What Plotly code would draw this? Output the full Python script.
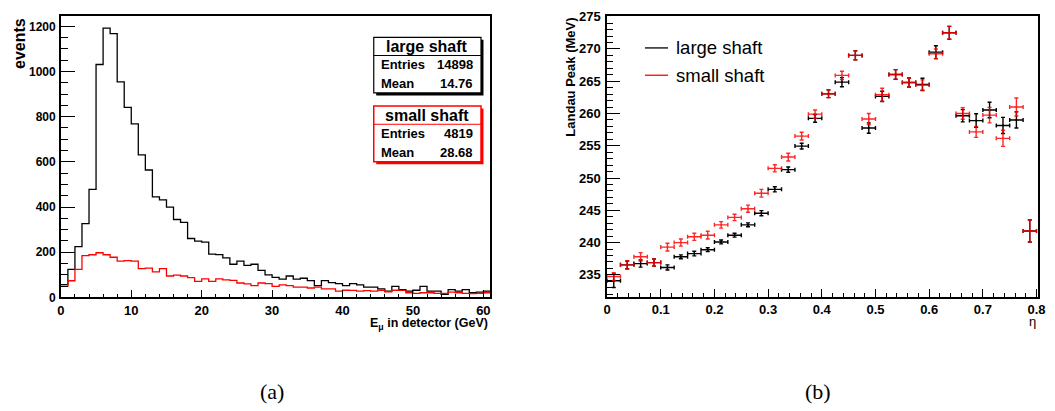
import numpy as np
import plotly.graph_objects as go

W, H = 1055, 411

# ---------------- (a) muon energy spectra, 1 GeV bins from 0 to 61 GeV ----------------
bin_edges = list(range(0, 62))
large_counts = [57, 124, 225, 327, 478, 1031, 1192, 1168, 954, 841,
                768, 631, 564, 445, 432, 400, 345, 332, 261, 249,
                245, 192, 190, 175, 147, 161, 142, 147, 120, 100,
                89, 81, 95, 81, 85, 75, 52, 75, 66, 61,
                52, 61, 56, 46, 46, 38, 28, 49, 35, 28,
                32, 49, 28, 28, 14, 35, 28, 35, 21, 24,
                28]
small_counts = [49, 74, 124, 185, 189, 198, 189, 178, 161, 163,
                161, 128, 130, 113, 128, 95, 99, 95, 88, 71,
                82, 71, 82, 78, 76, 64, 60, 52, 64, 61,
                49, 56, 52, 46, 46, 42, 46, 38, 38, 28,
                32, 31, 28, 30, 28, 32, 25, 32, 31, 21,
                18, 21, 21, 18, 18, 24, 21, 18, 17, 18,
                21]
stat_names = ["large shaft", "small shaft"]
stat_entries = ["14898", "4819"]
stat_means = ["14.76", "28.68"]

# ---------------- (b) Landau peak vs eta, bins of 0.025 ----------------
eta_centers = [0.0125, 0.0375, 0.0625, 0.0875, 0.1125, 0.1375, 0.1625, 0.1875,
               0.2125, 0.2375, 0.2625, 0.2875, 0.3125, 0.3375, 0.3625, 0.3875,
               0.4125, 0.4375, 0.4625, 0.4875, 0.5125, 0.5375, 0.5625, 0.5875,
               0.6125, 0.6375, 0.6625, 0.6875, 0.7125, 0.7375, 0.7625, 0.7875]
eta_halfwidth = 0.0125
large_peak = [234.1, 236.55, 236.75, 236.9, 236.15, 237.8, 238.3, 238.9,
              240.1, 241.15, 242.75, 244.55, 248.25, 251.3, 254.95, 259.25,
              263.05, 264.85, 269.0, 257.75, 262.65, 266.05, 264.8, 264.5,
              269.5, 272.5, 259.65, 258.9, 260.55, 258.15, 259.0, 241.8]
large_err = [1.05, 0.6, 0.55, 0.55, 0.4, 0.3, 0.35, 0.3,
             0.3, 0.3, 0.3, 0.4, 0.4, 0.4, 0.45, 0.6,
             0.6, 0.7, 0.7, 0.8, 0.8, 0.75, 0.7, 0.95,
             1.0, 1.0, 0.95, 1.05, 1.2, 1.25, 1.25, 1.7]
small_peak = [234.75, 236.55, 237.8, 236.9, 239.3, 240.0, 240.9, 241.15,
              242.75, 243.9, 245.25, 247.65, 251.5, 253.25, 256.5, 259.9,
              263.05, 265.9, 269.0, 259.15, 262.9, 266.05, 264.8, 264.4,
              269.25, 272.5, 260.0, 257.15, 259.75, 256.15, 261.0, 241.8]
small_err = [0.6, 0.65, 0.65, 0.55, 0.6, 0.55, 0.55, 0.6,
             0.5, 0.5, 0.55, 0.6, 0.55, 0.6, 0.6, 0.65,
             0.6, 0.65, 0.7, 0.85, 1.0, 0.75, 0.7, 0.8,
             0.75, 1.0, 0.9, 0.85, 1.2, 1.25, 1.4, 1.7]

RED = "#ff0000"
FONT = "Liberation Sans, Arial, Helvetica, sans-serif"
SERIF = "Liberation Serif, Times New Roman, serif"


def px(x):
    return x / W


def py(y):
    return 1 - y / H


fig = go.Figure()

# step histograms (last value repeated so the final bin is closed at 61)
fig.add_trace(go.Scatter(x=bin_edges, y=large_counts + [large_counts[-1]],
                         mode="lines", line=dict(shape="hv", color="black", width=1.3),
                         xaxis="x", yaxis="y", showlegend=False, hoverinfo="skip"))
fig.add_trace(go.Scatter(x=bin_edges, y=small_counts + [small_counts[-1]],
                         mode="lines", line=dict(shape="hv", color=RED, width=1.3),
                         xaxis="x", yaxis="y", showlegend=False, hoverinfo="skip"))

# Landau peak points with x/y error bars
for vals, errs, col, op in [(large_peak, large_err, "black", 1.0),
                            (small_peak, small_err, RED, 0.85)]:
    fig.add_trace(go.Scatter(
        x=eta_centers, y=vals, mode="markers",
        marker=dict(size=2, color=col),
        opacity=op,
        error_x=dict(type="constant", value=eta_halfwidth, color=col, thickness=1.4, width=2),
        error_y=dict(type="data", array=errs, color=col, thickness=1.4, width=2),
        xaxis="x2", yaxis="y2", showlegend=False, hoverinfo="skip"))

axis_common = dict(showline=True, mirror=True, linecolor="black", linewidth=1.5,
                   showgrid=False, zeroline=False, ticks="inside", tickcolor="black",
                   tickwidth=1, color="black")

fig.update_layout(
    width=W, height=H, margin=dict(l=0, r=0, t=0, b=0),
    paper_bgcolor="white", plot_bgcolor="white",
    xaxis=dict(domain=[px(57.5), px(492)], range=[0, 61], anchor="y",
               tick0=0, dtick=10, ticklen=8,
               minor=dict(ticks="inside", dtick=2, ticklen=4, tickcolor="black", tickwidth=1),
               tickfont=dict(family=FONT, size=13, color="black", weight="bold"),
               **axis_common),
    yaxis=dict(domain=[py(301), py(10)], range=[0, 1247], anchor="x",
               tick0=0, dtick=200, ticklen=14, ticklabelstandoff=1,
               minor=dict(ticks="inside", dtick=50, ticklen=7, tickcolor="black", tickwidth=1),
               tickfont=dict(family=FONT, size=12, color="black", weight="bold"),
               **axis_common),
    xaxis2=dict(domain=[px(610), px(1045.5)], range=[0, 0.802], anchor="y2",
                tick0=0, dtick=0.1, ticklen=8,
                minor=dict(ticks="inside", dtick=0.02, ticklen=4, tickcolor="black", tickwidth=1),
                tickfont=dict(family=FONT, size=13, color="black", weight="bold"),
                **axis_common),
    yaxis2=dict(domain=[py(300), py(10)], range=[231.65, 275.15], anchor="x2",
                tick0=235, dtick=5, ticklen=13, ticklabelstandoff=2,
                minor=dict(ticks="inside", dtick=1, ticklen=6.5, tickcolor="black", tickwidth=1),
                tickfont=dict(family=FONT, size=13, color="black", weight="bold"),
                **axis_common),
)

shapes = []
annotations = []


def rect(x0, y0, x1, y1, line_color, fill, lw):
    shapes.append(dict(type="rect", xref="paper", yref="paper",
                       x0=px(x0), x1=px(x1), y0=py(y1), y1=py(y0),
                       line=dict(color=line_color, width=lw), fillcolor=fill, layer="above"))


def hline(x0, x1, y, color, lw):
    shapes.append(dict(type="line", xref="paper", yref="paper",
                       x0=px(x0), x1=px(x1), y0=py(y), y1=py(y),
                       line=dict(color=color, width=lw), layer="above"))


def text(s, x, y, size, xanchor="center", yanchor="middle", bold=True, angle=0,
         family=FONT, color="black"):
    annotations.append(dict(text=s, xref="paper", yref="paper", x=px(x), y=py(y),
                            xanchor=xanchor, yanchor=yanchor, showarrow=False,
                            textangle=angle,
                            font=dict(family=family, size=size, color=color,
                                      weight="bold" if bold else "normal")))


# statistics boxes of panel (a)
box_tops = [32.3, 103.3]
box_colors = ["black", RED]
for i, (name, ent, mean) in enumerate(zip(stat_names, stat_entries, stat_means)):
    top = box_tops[i]
    col = box_colors[i]
    x0, x1 = 374, 482.5
    bottom = top + 57.5
    rect(x0 + 2.5, top + 2.5, x1 + 2.5, bottom + 2.5, col, col, 0)
    rect(x0, top, x1, bottom, col, "white", 1.2 if i == 0 else 1.5)
    hline(x0, x1, top + 18.8, col, 1.2)
    text(name, (x0 + x1) / 2, top + 9.6, 16)
    text("Entries", x0 + 5, top + 28.5, 13, xanchor="left")
    text(ent, x1 - 6, top + 28.5, 13, xanchor="right")
    text("Mean", x0 + 5, top + 48, 13, xanchor="left")
    text(mean, x1 - 6, top + 48, 13, xanchor="right")

# legend of panel (b)
for name, col, yy in [(stat_names[0], "black", 43.3), (stat_names[1], RED, 71.5)]:
    hline(648.3, 671.7, yy, col, 1.3)
    text(name, 678, yy, 18.5, xanchor="left", bold=False)

# axis titles
text("events", 15, 10, 16, yanchor="top", angle=-90)
text("E<sub>μ</sub> in detector (GeV)", 492, 318, 12.5, xanchor="right", yanchor="top")
text("Landau Peak (MeV)", 573, 10, 13, yanchor="top", angle=-90)
text("η", 1040, 326, 13, bold=False)

# panel captions
text("(a)", 271, 398, 22, bold=False, family=SERIF)
text("(b)", 823, 398, 22, bold=False, family=SERIF)

fig.update_layout(shapes=shapes, annotations=annotations)

fig.write_html("out.html", config={"displayModeBar": False})
